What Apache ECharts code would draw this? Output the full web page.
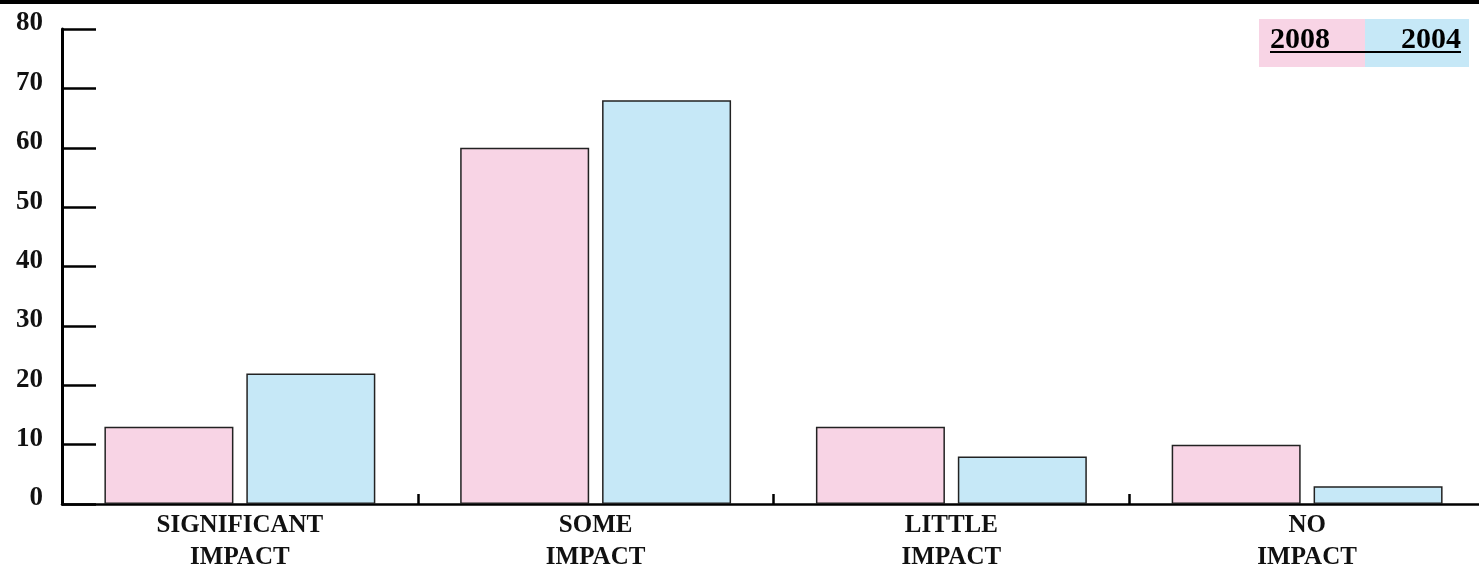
<!DOCTYPE html>
<html>
<head>
<meta charset="utf-8">
<script src="https://cdn.jsdelivr.net/npm/echarts@6/dist/echarts.min.js"></script>
<style>
  html, body { margin: 0; padding: 0; background: #fff; }
  #chart { width: 1479px; height: 566px; }
</style>
</head>
<body>
<div id="chart"></div>
<script>
// Survey answers by category, two survey years
const categories = ['SIGNIFICANT\nIMPACT', 'SOME\nIMPACT', 'LITTLE\nIMPACT', 'NO\nIMPACT'];
const values2008 = [13, 60, 13, 10];
const values2004 = [22, 68, 8, 3];
const yearLabels = ['2008', '2004'];

const PINK = '#f8d4e5';
const BLUE = '#c6e8f7';
const SERIF = '"Liberation Serif", "DejaVu Serif", serif';

const chart = echarts.init(document.getElementById('chart'), null, { renderer: 'canvas' });

const barStyle = (color) => ({ color: color, borderColor: '#222', borderWidth: 1.5 });

chart.setOption({
  animation: false,
  backgroundColor: '#fff',
  grid: { left: 62, right: -6, top: 29, bottom: 62, containLabel: false, outerBoundsMode: 'none' },
  xAxis: {
    type: 'category',
    data: categories,
    boundaryGap: true,
    axisLine: { show: true, lineStyle: { color: '#000', width: 2.5 } },
    axisTick: { show: true, inside: true, length: 10, lineStyle: { color: '#000', width: 2.5 } },
    axisLabel: {
      margin: 6,
      color: '#111',
      fontFamily: SERIF,
      fontWeight: 'bold',
      fontSize: 25,
      lineHeight: 32
    },
    splitLine: { show: false }
  },
  yAxis: {
    type: 'value',
    min: 0,
    max: 80,
    interval: 10,
    axisLine: { show: true, lineStyle: { color: '#000', width: 3 } },
    axisTick: { show: true, inside: true, length: 34, lineStyle: { color: '#000', width: 2.5 } },
    axisLabel: {
      margin: 19,
      color: '#111',
      fontFamily: SERIF,
      fontWeight: 'bold',
      fontSize: 27,
      verticalAlign: 'bottom',
      lineHeight: 11
    },
    splitLine: { show: false }
  },
  series: [
    {
      name: yearLabels[0],
      type: 'bar',
      data: values2008,
      barWidth: 129,
      barGap: '10%',
      itemStyle: barStyle(PINK)
    },
    {
      name: yearLabels[1],
      type: 'bar',
      data: values2004,
      barWidth: 129,
      barGap: '10%',
      itemStyle: barStyle(BLUE)
    }
  ],
  graphic: [
    // heavy rule across the top edge
    { type: 'rect', left: 0, top: 0, shape: { width: 1479, height: 4 }, style: { fill: '#000' }, z: 10 },
    // year key
    { type: 'rect', left: 1259, top: 19, shape: { width: 106, height: 48 }, style: { fill: PINK }, z: 10 },
    { type: 'rect', left: 1365, top: 19, shape: { width: 104, height: 48 }, style: { fill: BLUE }, z: 10 },
    {
      type: 'text', left: 1270, top: 25, z: 11,
      style: { text: yearLabels[0], fill: '#000', font: 'bold 30px ' + SERIF }
    },
    {
      type: 'text', right: 1479 - 1461, top: 25, z: 11,
      style: { text: yearLabels[1], fill: '#000', font: 'bold 30px ' + SERIF }
    },
    { type: 'rect', left: 1270, top: 51, shape: { width: 191, height: 2 }, style: { fill: '#000' }, z: 11 }
  ]
});
</script>
</body>
</html>
